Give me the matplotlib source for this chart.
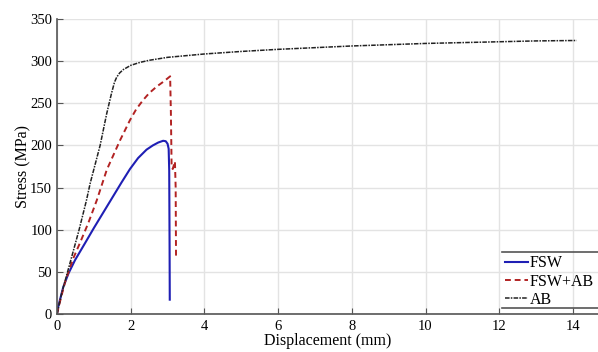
import matplotlib
matplotlib.use("Agg")
import matplotlib.pyplot as plt
from matplotlib.lines import Line2D

# Data
fsw_x = [0, 0.035, 0.17, 0.31, 0.49, 0.76, 1.0, 1.25, 1.5, 1.75, 1.98, 2.2, 2.43, 2.6, 2.75, 2.88, 2.95, 3.0, 3.03, 3.045, 3.055, 3.06]
fsw_y = [0, 9, 32, 48, 64, 84, 102, 120, 138, 156, 172, 185, 195, 200, 203.5, 205.5, 205, 202, 196, 170, 80, 17]

fswab_x = [0, 0.1, 0.22, 0.44, 0.62, 0.85, 1.08, 1.35, 1.71, 1.98, 2.15, 2.34, 2.5, 2.71, 2.9, 3.07, 3.09, 3.11, 3.14, 3.2, 3.22, 3.23]
fswab_y = [0, 18, 38, 66, 84, 108, 135, 171, 206, 230, 243, 254, 262, 270, 276, 282, 240, 175, 172, 181, 150, 66]

ab_x = [0, 0.13, 0.4, 0.6, 0.8, 0.9, 1.17, 1.35, 1.48, 1.56, 1.62, 1.7, 1.8, 2.0, 2.25, 2.5, 3.0, 3.5, 4, 5, 6, 7, 8, 9, 10, 11, 12, 13, 14.1]
ab_y = [0, 25, 68, 100, 135, 155, 200, 238, 262, 275, 281, 286, 290, 295, 298.5, 301, 304.5, 306.5, 308.5, 311.5, 314, 316, 318, 319.5, 321, 322, 323, 324, 324.5]

xticks = [0, 2, 4, 6, 8, 10, 12, 14]
yticks = [0, 50, 100, 150, 200, 250, 300, 350]

plt.rcParams['font.family'] = ['Liberation Serif', 'DejaVu Serif']

fig = plt.figure(figsize=(5.98, 3.52), dpi=100)
ax = fig.add_axes([57/598, 38/352, 1 - 57/598, (314 - 19)/352])

ax.plot(fsw_x, fsw_y, color='#1f1fb4', lw=1.5, label='FSW', solid_joinstyle='round')
ax.plot(fswab_x, fswab_y, color='#b22222', lw=1.4, ls=(0, (3, 2)), label='FSW+AB')
ax.plot(ab_x, ab_y, color='#222222', lw=1.1, ls=(0, (3, 0.8, 1, 0.8)), label='AB')

ax.set_xlim(0, 14.68)
ax.set_ylim(0, 350)
ax.set_xticks(xticks)
ax.set_yticks(yticks)
ax.tick_params(direction='in', length=4, labelsize=10.5, color='#555555', width=0.8)
ax.tick_params(axis='x', pad=4)
ax.grid(True, color='#e3e3e3', lw=1)
ax.set_axisbelow(True)
for s in ['top', 'right']:
    ax.spines[s].set_visible(False)
for s in ['left', 'bottom']:
    ax.spines[s].set_color('#555555')
    ax.spines[s].set_linewidth(1.2)

ax.set_xlabel('Displacement (mm)', fontsize=11.5, labelpad=0)
ax.set_ylabel('Stress (MPa)', fontsize=11.5, labelpad=-1)

leg = ax.legend(loc='upper left', bbox_to_anchor=(494/598, 1 - 244/352), bbox_transform=fig.transFigure,
                frameon=False, fontsize=11.5, handlelength=1.4, handletextpad=0.15,
                labelspacing=0.15, borderpad=0.2)

for yp in [252, 308]:
    fig.add_artist(Line2D([502/598, 1.0], [1 - yp/352, 1 - yp/352], color='#555555', lw=1.2,
                          transform=fig.transFigure))

fig.savefig('out.png', dpi=100)
